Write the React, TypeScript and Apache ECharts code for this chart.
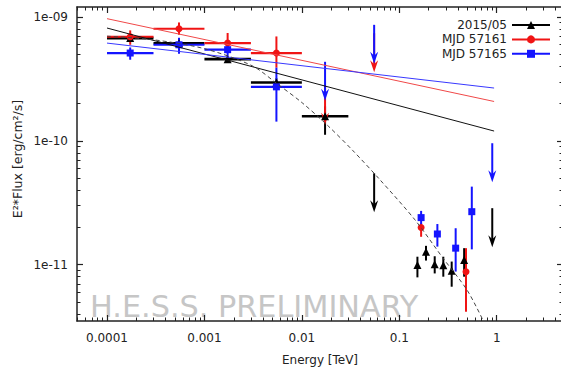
import { useEffect, useRef } from "react";
import * as echarts from "echarts";

// ---- axes (energy in TeV, E²·flux in erg/cm²/s) ----
const energyRange = [4.92e-5, 4.79];
const fluxRange = [3.51e-12, 1.205e-9];
const xMajorTicks = [1e-4, 1e-3, 1e-2, 0.1, 1];
const xTickLabels = ["0.0001", "0.001", "0.01", "0.1", "1"];
const yMajorTicks = [1e-9, 1e-10, 1e-11];
const yTickLabels = ["1e-09", "1e-10", "1e-11"];

// ---- 2015/05 ----
const e2015 = [1.73e-4, 5.48e-4, 1.73e-3, 5.48e-3, 1.73e-2, 0.1535, 0.188, 0.231, 0.283, 0.345, 0.463];
const e2015Lo = [1e-4, 3e-4, 1e-3, 3e-3, 1e-2, null, null, null, null, null, null];
const e2015Hi = [3e-4, 1e-3, 3e-3, 1e-2, 3e-2, null, null, null, null, null, null];
const f2015 = [6.76e-10, 6.14e-10, 4.57e-10, 2.96e-10, 1.58e-10, 9.94e-12, 1.27e-11, 1.01e-11, 9.9e-12, 8.95e-12, 1.09e-11];
const f2015Lo = [6.3e-10, 5.8e-10, 4.35e-10, 2.75e-10, 1.12e-10, 7.9e-12, 1.08e-11, 8.5e-12, 8.0e-12, 6.64e-12, 8.0e-12];
const f2015Hi = [7.3e-10, 6.5e-10, 4.8e-10, 3.2e-10, 1.9e-10, 1.16e-11, 1.42e-11, 1.17e-11, 1.16e-11, 1.06e-11, 1.36e-11];
const ul2015E = [0.0552, 0.9];
const ul2015F = [5.47e-11, 2.86e-11];

// ---- MJD 57161 ----
const e57161 = [1.73e-4, 5.48e-4, 1.73e-3, 5.48e-3, 0.1675, 0.484];
const e57161Lo = [1e-4, 3e-4, 1e-3, 3e-3, null, null];
const e57161Hi = [3e-4, 1e-3, 3e-3, 1e-2, null, null];
const f57161 = [6.93e-10, 8.04e-10, 6.16e-10, 5.12e-10, 2.0e-11, 8.77e-12];
const f57161Lo = [5.97e-10, 7.19e-10, 5.27e-10, 3.9e-10, 1.68e-11, 4.17e-12];
const f57161Hi = [7.8e-10, 9.04e-10, 7.43e-10, 6.97e-10, 2.16e-11, 1.36e-11];
const ul57161E = [0.0173, 0.0552];
const ul57161F = [2.78e-10, 7.4e-10];

// ---- MJD 57165 ----
const e57165 = [1.73e-4, 5.48e-4, 1.73e-3, 5.48e-3, 0.1675, 0.246, 0.379, 0.555];
const e57165Lo = [1e-4, 3e-4, 1e-3, 3e-3, null, null, null, null];
const e57165Hi = [3e-4, 1e-3, 3e-3, 1e-2, null, null, null, null];
const f57165 = [5.12e-10, 5.97e-10, 5.45e-10, 2.73e-10, 2.4e-11, 1.77e-11, 1.36e-11, 2.68e-11];
const f57165Lo = [4.52e-10, 5.05e-10, 4.37e-10, 1.43e-10, 2.1e-11, 1.4e-11, 8.8e-12, 1.33e-11];
const f57165Hi = [5.68e-10, 6.8e-10, 6.19e-10, 3.9e-10, 2.72e-11, 2.13e-11, 1.97e-11, 4.27e-11];
const ul57165E = [0.0173, 0.0552, 0.9];
const ul57165F = [4.35e-10, 8.65e-10, 9.57e-11];

// ---- power-law fits (end points) ----
const fitE = [1e-4, 0.94];
const fit2015 = [8.15e-10, 1.2e-10];
const fit57161 = [9.7e-10, 2.08e-10];
const fit57165 = [6.16e-10, 2.67e-10];

// ---- curved spectral model ----
const curveE = [1.0e-4, 3.0e-4, 1.0e-3, 3.09e-3, 5.58e-3, 1.007e-2, 1.86e-2, 3.36e-2, 6.35e-2, 0.145, 0.281, 0.496, 0.722];
const curveF = [7.0e-10, 6.55e-10, 5.55e-10, 4.04e-10, 2.89e-10, 2.03e-10, 1.32e-10, 8.3e-11, 4.84e-11, 2.3e-11, 1.13e-11, 6.24e-12, 3.57e-12];

const FONT = "DejaVu Sans";
const INK = "#222";
const BLACK = "#000000";
const RED = "#f01414";
const BLUE = "#1414ff";

const lg = (v) => (v == null ? NaN : Math.log10(v));

function minorTicks(lo, hi) {
  const out = [];
  for (let n = Math.floor(lo) - 1; n <= Math.ceil(hi); n++) {
    for (let k = 2; k <= 9; k++) {
      const v = n + Math.log10(k);
      if (v > lo && v < hi) out.push(v);
    }
  }
  return out;
}

function errorData(e, eLo, eHi, f, fLo, fHi) {
  return e.map((_, i) => [lg(e[i]), lg(f[i]), lg(fLo[i]), lg(fHi[i]), lg(eLo[i]), lg(eHi[i])]);
}

function errorRenderer(color, vWidth, hWidth) {
  return (params, api) => {
    const x = api.value(0);
    const y = api.value(1);
    const ylo = api.value(2);
    const yhi = api.value(3);
    const xlo = api.value(4);
    const xhi = api.value(5);
    const children = [];
    const top = api.coord([x, yhi]);
    const bot = api.coord([x, ylo]);
    children.push({
      type: "line",
      shape: { x1: top[0], y1: top[1], x2: bot[0], y2: bot[1] },
      style: { stroke: color, lineWidth: vWidth },
    });
    if (isFinite(xlo) && isFinite(xhi)) {
      const l = api.coord([xlo, y]);
      const r = api.coord([xhi, y]);
      children.push({
        type: "line",
        shape: { x1: l[0], y1: l[1], x2: r[0], y2: r[1] },
        style: { stroke: color, lineWidth: hWidth },
      });
    }
    return { type: "group", children };
  };
}

function arrowRenderer(color) {
  return (params, api) => {
    const p = api.coord([api.value(0), api.value(1)]);
    const len = 39;
    const tipY = p[1] + len;
    return {
      type: "group",
      children: [
        {
          type: "line",
          shape: { x1: p[0], y1: p[1], x2: p[0], y2: tipY - 6 },
          style: { stroke: color, lineWidth: 2 },
        },
        {
          type: "polygon",
          shape: {
            points: [
              [p[0], tipY],
              [p[0] - 4, tipY - 12],
              [p[0], tipY - 8],
              [p[0] + 4, tipY - 12],
            ],
          },
          style: { fill: color },
        },
      ],
    };
  };
}

export default function App() {
  const ref = useRef(null);

  useEffect(() => {
    const chart = echarts.init(ref.current, null, { renderer: "svg" });

    const xMin = lg(energyRange[0]);
    const xMax = lg(energyRange[1]);
    const yMin = lg(fluxRange[0]);
    const yMax = lg(fluxRange[1]);
    const xMajor = xMajorTicks.map(lg);
    const yMajor = yMajorTicks.map(lg);
    const xMinor = minorTicks(xMin, xMax);
    const yMinor = minorTicks(yMin, yMax);

    const labelFor = (ticks, labels) => (v) => {
      const i = ticks.findIndex((t) => Math.abs(t - v) < 1e-6);
      return i >= 0 ? labels[i] : "";
    };

    const axisLine = { show: true, onZero: false, lineStyle: { color: INK, width: 1.5 } };
    const hiddenLine = { show: false, onZero: false };
    const baseX = { type: "value", min: xMin, max: xMax, splitLine: { show: false }, axisLine };
    const baseY = { type: "value", min: yMin, max: yMax, splitLine: { show: false }, axisLine };
    const majorTick = (vals) => ({ show: true, inside: true, length: 6, customValues: vals, lineStyle: { color: INK, width: 1.2 } });
    const minorTick = (vals) => ({ show: true, inside: true, length: 3.5, customValues: vals, lineStyle: { color: INK, width: 1 } });
    const noLabel = { show: false };

    const tickFont = { fontFamily: FONT, fontSize: 12, color: INK };

    const scatter = (name, data, symbol, size, color) => ({
      type: "scatter",
      name,
      data,
      symbol,
      symbolSize: size,
      itemStyle: { color, opacity: 1 },
      z: 5,
    });

    const option = {
      animation: false,
      backgroundColor: "#ffffff",
      grid: { left: 77, top: 7, width: 486, height: 314, containLabel: false, outerBoundsMode: "none" },
      xAxis: [
        {
          ...baseX,
          position: "bottom",
          axisTick: majorTick(xMajor),
          axisLabel: { ...tickFont, margin: 11, customValues: xMajor, formatter: labelFor(xMajor, xTickLabels) },
          name: "Energy [TeV]",
          nameLocation: "middle",
          nameGap: 33,
          nameTextStyle: { fontFamily: FONT, fontSize: 12, color: INK },
        },
        { ...baseX, position: "bottom", axisLine: hiddenLine, axisTick: minorTick(xMinor), axisLabel: noLabel },
        { ...baseX, position: "top", axisTick: majorTick(xMajor), axisLabel: noLabel },
        { ...baseX, position: "top", axisLine: hiddenLine, axisTick: minorTick(xMinor), axisLabel: noLabel },
      ],
      yAxis: [
        {
          ...baseY,
          position: "left",
          axisTick: majorTick(yMajor),
          axisLabel: { ...tickFont, margin: 9, customValues: yMajor, formatter: labelFor(yMajor, yTickLabels) },
        },
        { ...baseY, position: "left", axisLine: hiddenLine, axisTick: minorTick(yMinor), axisLabel: noLabel },
        { ...baseY, position: "right", axisTick: majorTick(yMajor), axisLabel: noLabel },
        { ...baseY, position: "right", axisLine: hiddenLine, axisTick: minorTick(yMinor), axisLabel: noLabel },
      ],
      legend: {
        orient: "vertical",
        right: 10,
        top: 19,
        padding: 0,
        itemGap: 2.4,
        itemWidth: 38,
        itemHeight: 10,
        align: "right",
        textStyle: { fontFamily: FONT, fontSize: 12, color: INK },
        data: ["2015/05", "MJD 57161", "MJD 57165"],
      },
      graphic: [
        {
          type: "text",
          x: 90,
          y: 306,
          z: 0,
          silent: true,
          style: {
            text: "H.E.S.S. PRELIMINARY",
            fontFamily: FONT,
            fontSize: 30.3,
            fill: "#c6c6c6",
            align: "left",
            verticalAlign: "middle",
          },
        },
        {
          type: "text",
          x: 17,
          y: 159,
          rotation: Math.PI / 2,
          style: {
            text: "E²*Flux [erg/cm²/s]",
            fontFamily: FONT,
            fontSize: 12.5,
            fill: INK,
            align: "center",
            verticalAlign: "middle",
          },
        },
      ],
      series: [
        // legend entries
        { type: "line", name: "2015/05", data: [], symbol: "triangle", symbolSize: 8, itemStyle: { color: BLACK }, lineStyle: { color: BLACK, width: 2 } },
        { type: "line", name: "MJD 57161", data: [], symbol: "circle", symbolSize: 8, itemStyle: { color: RED }, lineStyle: { color: RED, width: 2 } },
        { type: "line", name: "MJD 57165", data: [], symbol: "rect", symbolSize: 8, itemStyle: { color: BLUE }, lineStyle: { color: BLUE, width: 2 } },

        // error bars
        {
          type: "custom",
          name: "err-2015",
          data: errorData(e2015, e2015Lo, e2015Hi, f2015, f2015Lo, f2015Hi),
          renderItem: errorRenderer(BLACK, 2, 2.6),
          z: 3,
        },
        {
          type: "custom",
          name: "err-57161",
          data: errorData(e57161, e57161Lo, e57161Hi, f57161, f57161Lo, f57161Hi),
          renderItem: errorRenderer(RED, 2, 2.2),
          z: 3,
        },
        {
          type: "custom",
          name: "err-57165",
          data: errorData(e57165, e57165Lo, e57165Hi, f57165, f57165Lo, f57165Hi),
          renderItem: errorRenderer(BLUE, 2, 2.2),
          z: 3,
        },

        // upper limits
        { type: "custom", name: "ul-57161", data: ul57161E.map((e, i) => [lg(e), lg(ul57161F[i])]), renderItem: arrowRenderer(RED), z: 3 },
        { type: "custom", name: "ul-57165", data: ul57165E.map((e, i) => [lg(e), lg(ul57165F[i])]), renderItem: arrowRenderer(BLUE), z: 3 },
        { type: "custom", name: "ul-2015", data: ul2015E.map((e, i) => [lg(e), lg(ul2015F[i])]), renderItem: arrowRenderer(BLACK), z: 3 },

        // markers
        scatter("pts-2015", e2015.map((e, i) => [lg(e), lg(f2015[i])]), "triangle", 8, BLACK),
        scatter("pts-57161", e57161.map((e, i) => [lg(e), lg(f57161[i])]), "circle", 7, RED),
        scatter("pts-57165", e57165.map((e, i) => [lg(e), lg(f57165[i])]), "rect", 7, BLUE),

        // fits
        { type: "line", name: "fit-2015", data: fitE.map((e, i) => [lg(e), lg(fit2015[i])]), symbol: "none", lineStyle: { color: "#111", width: 1 }, z: 6 },
        { type: "line", name: "fit-57161", data: fitE.map((e, i) => [lg(e), lg(fit57161[i])]), symbol: "none", lineStyle: { color: "#f04848", width: 1 }, z: 6 },
        { type: "line", name: "fit-57165", data: fitE.map((e, i) => [lg(e), lg(fit57165[i])]), symbol: "none", lineStyle: { color: "#3838ff", width: 1 }, z: 6 },
        {
          type: "line",
          name: "curve",
          data: curveE.map((e, i) => [lg(e), lg(curveF[i])]),
          symbol: "none",
          smooth: 0.3,
          lineStyle: { color: "#444", width: 1, type: [4, 3] },
          z: 6,
        },
      ],
    };

    chart.setOption(option);
    return () => chart.dispose();
  }, []);

  return <div ref={ref} style={{ position: "absolute", left: 0, top: 0, width: 561, height: 368 }} />;
}
